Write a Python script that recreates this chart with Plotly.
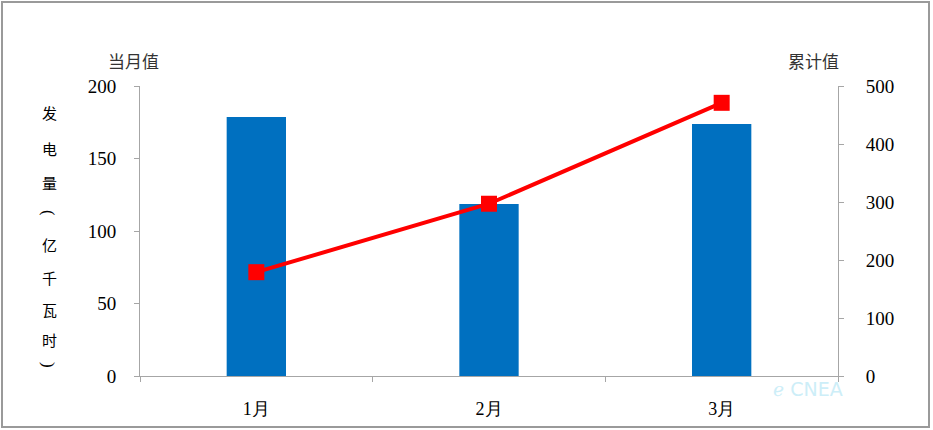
import plotly.graph_objects as go

months = ["1月", "2月", "3月"]
monthly = [178.6, 118.6, 173.8]
cumulative = [179, 297, 471]
left_ticks = [0, 50, 100, 150, 200]
right_ticks = [0, 100, 200, 300, 400, 500]
ytitle_chars = ["发", "电", "量", "(", "亿", "千", "瓦", "时", ")"]

W, H = 933, 430
ML, MR, MT, MB = 140, 95, 86, 54
pw, ph = W - ML - MR, H - MT - MB

serif = "Liberation Serif"
cjk = "Noto Sans CJK SC"
axis_col = "#a6a6a6"

fig = go.Figure()
fig.add_trace(go.Bar(x=months, y=monthly, marker=dict(color="#0070C0", line=dict(width=0)),
                     width=0.255, yaxis="y", name="当月值"))
fig.add_trace(go.Scatter(x=months, y=cumulative, yaxis="y2", mode="lines+markers",
                         line=dict(color="#FF0000", width=4),
                         marker=dict(symbol="square", size=16, color="#FF0000"),
                         name="累计值"))

fig.update_layout(
    width=W, height=H,
    margin=dict(l=ML, r=MR, t=MT, b=MB),
    paper_bgcolor="white", plot_bgcolor="white",
    showlegend=False,
    xaxis=dict(type="category", range=[-0.5, 2.5], showline=True, linecolor=axis_col, linewidth=1,
               ticks="outside", tickson="boundaries", ticklen=5, tickcolor=axis_col,
               showgrid=False, tickfont=dict(family=serif, size=18, color="black"),
               ticklabelstandoff=16),
    yaxis=dict(range=[0, 200], tickvals=left_ticks, showline=True, linecolor=axis_col, linewidth=1,
               ticks="outside", ticklen=5, tickcolor=axis_col, showgrid=False, zeroline=False,
               tickfont=dict(family=serif, size=19, color="black"), ticklabelstandoff=14),
    yaxis2=dict(range=[0, 500], tickvals=right_ticks, overlaying="y", side="right", showline=True,
                linecolor=axis_col, linewidth=1, ticks="outside", ticklen=5, tickcolor=axis_col,
                showgrid=False, zeroline=False,
                tickfont=dict(family=serif, size=19, color="black"), ticklabelstandoff=18),
)

def px(x):
    return (x - ML) / pw

def py(y):
    return (H - MB - y) / ph

fig.add_annotation(x=px(106), y=py(46), xref="paper", yref="paper", text="当月值", showarrow=False,
                   font=dict(family=cjk, size=17, color="#333"))
fig.add_annotation(x=px(841), y=py(46), xref="paper", yref="paper", text="累计值", showarrow=False,
                   font=dict(family=cjk, size=17, color="#333"))
ys = [113, 148, 182, 213, 244, 277, 309, 339, 365]
for ch, yy in zip(ytitle_chars, ys):
    paren = ch in "()"
    fig.add_annotation(x=px(49), y=py(yy), xref="paper", yref="paper", text=ch, showarrow=False,
                       xanchor="center", yanchor="middle", textangle=90 if paren else 0,
                       font=dict(family=serif if paren else cjk, size=17 if paren else 15,
                                 color="black"))
fig.add_annotation(x=px(845), y=py(402), xref="paper", yref="paper", text="ℯ CNEA", showarrow=False,
                   font=dict(family="DejaVu Sans", size=19, color="#cdeef8"))
fig.add_shape(type="rect", xref="paper", yref="paper", x0=px(2), x1=px(929), y0=py(2), y1=py(427),
              line=dict(color="#9a9a9a", width=2))

fig.write_html("out.html", post_script="document.body.style.margin='0';",
               config={"displayModeBar": False})
